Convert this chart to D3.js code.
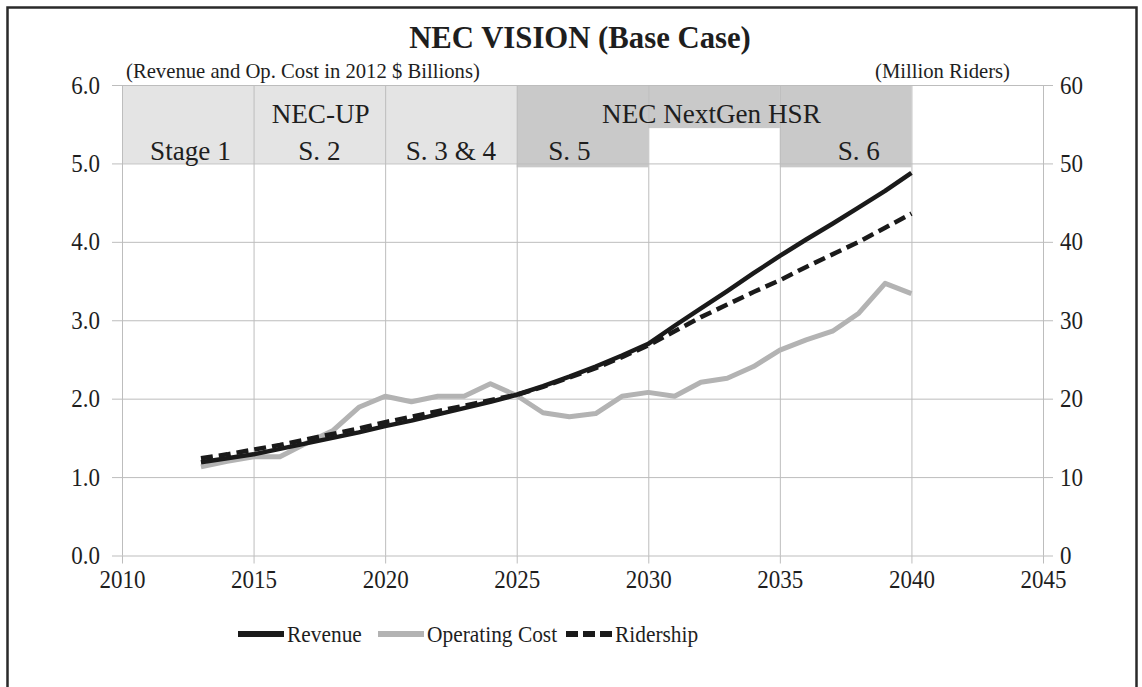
<!DOCTYPE html>
<html>
<head>
<meta charset="utf-8">
<script src="https://cdn.jsdelivr.net/npm/d3@7"></script>
<style>
    body { margin: 0; background: #fff; }
    text { font-family: "Liberation Serif", "Times New Roman", serif; fill: #1e1e1e; }
</style>
</head>
<body>
<svg id="chart" width="1142" height="687"></svg>
<script>
const years = d3.range(2013, 2041)

const revenue = [1.19, 1.24, 1.29, 1.36, 1.43, 1.50, 1.57, 1.65, 1.72, 1.80, 1.88, 1.96, 2.05, 2.16,
    2.28, 2.41, 2.55, 2.70, 2.93, 3.15, 3.37, 3.60, 3.82, 4.03, 4.23, 4.44, 4.65, 4.88]

const opCost = [1.13, 1.20, 1.26, 1.26, 1.43, 1.59, 1.89, 2.03, 1.96, 2.03, 2.03, 2.19, 2.04, 1.82,
    1.77, 1.81, 2.03, 2.08, 2.03, 2.21, 2.26, 2.41, 2.62, 2.75, 2.86, 3.09, 3.47, 3.34]

// million riders, right axis
const ridership = [12.4, 12.9, 13.5, 14.1, 14.8, 15.5, 16.2, 17.0, 17.7, 18.4, 19.1, 19.8, 20.5, 21.5,
    22.7, 23.9, 25.3, 26.8, 28.6, 30.4, 32.0, 33.6, 35.1, 36.8, 38.4, 40.0, 41.8, 43.6]

const leftTicks = [0, 1, 2, 3, 4, 5, 6]
const rightTicks = [0, 10, 20, 30, 40, 50, 60]
const xTicks = [2010, 2015, 2020, 2025, 2030, 2035, 2040, 2045]

// program phases shaded at the top of the plot
const bandFrom = [2010, 2025, 2030, 2035]
const bandTo = [2025, 2030, 2035, 2040]
const bandBottom = [5.0, 4.95, 5.45, 4.95]
const bandTone = ["light", "dark", "dark", "dark"]

const stageLabels = ["Stage 1", "NEC-UP", "S. 2", "S. 3 & 4", "S. 5", "NEC NextGen HSR", "S. 6"]
const stageYear = [2012.6, 2017.55, 2017.5, 2022.5, 2027, 2032.4, 2038]
const stageLevel = [5.17, 5.64, 5.17, 5.17, 5.17, 5.64, 5.17]

const seriesNames = ["Revenue", "Operating Cost", "Ridership"]

const svg = d3.select("#chart")
svg.append("rect").attr("width", 1142).attr("height", 687).attr("fill", "#fff")

const x = d3.scaleLinear().domain([2010, 2045]).range([122, 1043])
const y = d3.scaleLinear().domain([0, 6]).range([555.5, 85])
const yR = d3.scaleLinear().domain([0, 60]).range([555.5, 85])

// squeeze text horizontally, the source font is a narrow Times
function condense(sel, k) {
    sel.each(function () {
        const w = this.getComputedTextLength()
        d3.select(this)
            .attr("textLength", w * k)
            .attr("lengthAdjust", "spacingAndGlyphs")
    })
}

// outer frame
svg.append("rect")
    .attr("x", 7.5).attr("y", 7.5)
    .attr("width", 1129).attr("height", 700)
    .attr("fill", "none")
    .attr("stroke", "#2a2a2a")
    .attr("stroke-width", 2.5)

// shaded bands
svg.selectAll("rect.band")
    .data(bandFrom)
    .enter()
    .append("rect")
    .attr("class", "band")
    .attr("x", (d, i) => x(d))
    .attr("y", y(6))
    .attr("width", (d, i) => x(bandTo[i]) - x(d))
    .attr("height", (d, i) => y(bandBottom[i]) - y(6))
    .attr("fill", (d, i) => bandTone[i] === "light" ? "#e4e4e4" : "#c9c9c9")

// grid
const plotW = x(2045) - x(2010)
const plotH = y(0) - y(6)

svg.append("g")
    .attr("transform", `translate(${x(2010)},0)`)
    .call(d3.axisLeft(y).tickValues(leftTicks).tickSize(-plotW).tickFormat(""))
    .call(g => g.select(".domain").remove())
    .selectAll("line").attr("stroke", "#bdbdbd")

svg.append("g")
    .attr("transform", `translate(0,${y(0)})`)
    .call(d3.axisBottom(x).tickValues(xTicks).tickSize(-plotH).tickFormat(""))
    .call(g => g.select(".domain").remove())
    .selectAll("line").attr("stroke", "#bdbdbd")

// axes with outside ticks
const leftAxis = svg.append("g")
    .attr("transform", `translate(${x(2010)},0)`)
    .call(d3.axisLeft(y).tickValues(leftTicks).tickSize(10).tickPadding(12).tickFormat(d3.format(".1f")))
const rightAxis = svg.append("g")
    .attr("transform", `translate(${x(2045)},0)`)
    .call(d3.axisRight(yR).tickValues(rightTicks).tickSize(10).tickPadding(7).tickFormat(d3.format("d")))
const bottomAxis = svg.append("g")
    .attr("transform", `translate(0,${y(0)})`)
    .call(d3.axisBottom(x).tickValues(xTicks).tickSize(8).tickPadding(7).tickFormat(d3.format("d")))

for (const ax of [leftAxis, rightAxis, bottomAxis]) {
    ax.select(".domain").remove()
    ax.selectAll("line").attr("stroke", "#bdbdbd")
    ax.selectAll("text").attr("font-size", 25).attr("fill", "#1e1e1e")
        .attr("font-family", "Liberation Serif")
        .call(condense, 0.92)
}

// stage labels
svg.selectAll("text.stage")
    .data(stageLabels)
    .enter()
    .append("text")
    .attr("class", "stage")
    .attr("x", (d, i) => x(stageYear[i]))
    .attr("y", (d, i) => y(stageLevel[i]))
    .attr("dy", "0.35em")
    .attr("text-anchor", "middle")
    .attr("font-size", 28)
    .text(d => d)
    .call(condense, 0.97)

// titles
svg.append("text")
    .attr("x", 580).attr("y", 48)
    .attr("text-anchor", "middle")
    .attr("font-size", 32)
    .attr("font-weight", "bold")
    .text("NEC VISION (Base Case)")
    .call(condense, 0.96)

svg.append("text")
    .attr("x", 126).attr("y", 78)
    .attr("font-size", 22)
    .text("(Revenue and Op. Cost in 2012  $ Billions)")
    .call(condense, 0.94)

svg.append("text")
    .attr("x", 1010).attr("y", 78)
    .attr("text-anchor", "end")
    .attr("font-size", 22)
    .text("(Million  Riders)")
    .call(condense, 0.94)

// series
const line = d3.line()
    .x((d, i) => x(years[i]))
    .y(d => y(d))
const lineR = d3.line()
    .x((d, i) => x(years[i]))
    .y(d => yR(d))

svg.append("path")
    .attr("d", line(opCost))
    .attr("fill", "none")
    .attr("stroke", "#b3b3b3")
    .attr("stroke-width", 5)
    .attr("stroke-linejoin", "round")

svg.append("path")
    .attr("d", line(revenue))
    .attr("fill", "none")
    .attr("stroke", "#1a1a1a")
    .attr("stroke-width", 4.5)
    .attr("stroke-linejoin", "round")

svg.append("path")
    .attr("d", lineR(ridership))
    .attr("fill", "none")
    .attr("stroke", "#1a1a1a")
    .attr("stroke-width", 4.5)
    .attr("stroke-dasharray", "12,6")

// legend
const legendStyle = [
    {stroke: "#1a1a1a", dash: null},
    {stroke: "#b3b3b3", dash: null},
    {stroke: "#1a1a1a", dash: "12,5"}
]
const legendX = [238, 378, 566]
const ly = 634
seriesNames.forEach((name, i) => {
    svg.append("line")
        .attr("x1", legendX[i]).attr("x2", legendX[i] + 46)
        .attr("y1", ly).attr("y2", ly)
        .attr("stroke", legendStyle[i].stroke)
        .attr("stroke-width", 6)
        .attr("stroke-dasharray", legendStyle[i].dash)
    svg.append("text")
        .attr("x", legendX[i] + 49).attr("y", ly)
        .attr("dy", "0.35em")
        .attr("font-size", 23)
        .text(name)
        .call(condense, 0.93)
})
</script>
</body>
</html>
